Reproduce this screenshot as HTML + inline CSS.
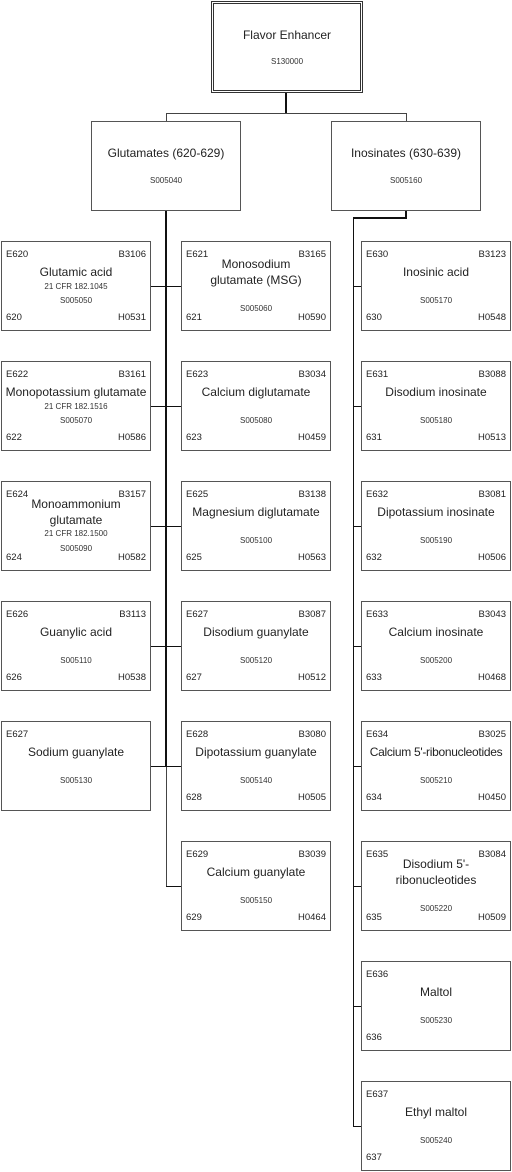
<!DOCTYPE html>
<html><head><meta charset="utf-8"><style>
body{margin:0;width:512px;height:1172px;background:#fff;position:relative;font-family:"Liberation Sans",sans-serif;color:#222;overflow:hidden}
.b{position:absolute;width:148px;height:88px;border:1px solid #555;background:#fff;box-sizing:content-box}
.t{position:absolute;left:0;right:0;text-align:center;font-size:12px;line-height:16px;white-space:nowrap}
.s{position:absolute;left:0;right:0;text-align:center;font-size:8px;line-height:10px;color:#333}
.c{position:absolute;font-size:9.5px;line-height:12px;color:#222}
.l{position:absolute;background:#111}
</style></head><body>
<!-- connectors -->
<div class="l" style="left:285px;top:91px;width:2px;height:23px"></div>
<div class="l" style="left:166px;top:113px;width:241px;height:1px;background:#444"></div>
<div class="l" style="left:166px;top:113px;width:1px;height:8px;background:#444"></div>
<div class="l" style="left:406px;top:113px;width:1px;height:8px;background:#444"></div>
<div class="l" style="left:165px;top:211px;width:2px;height:555px"></div>
<div class="l" style="left:166px;top:766px;width:1px;height:121px;background:#444"></div>
<div class="l" style="left:405px;top:211px;width:2px;height:8px"></div>
<div class="l" style="left:353px;top:217px;width:54px;height:2px"></div>
<div class="l" style="left:353px;top:217px;width:1px;height:910px"></div>
<div class="l" style="left:151px;top:286px;width:30px;height:1px"></div>
<div class="l" style="left:151px;top:406px;width:30px;height:1px"></div>
<div class="l" style="left:151px;top:526px;width:30px;height:1px"></div>
<div class="l" style="left:151px;top:646px;width:30px;height:1px"></div>
<div class="l" style="left:151px;top:766px;width:30px;height:1px"></div>
<div class="l" style="left:166px;top:886px;width:15px;height:1px"></div>
<div class="l" style="left:353px;top:286px;width:8px;height:1px"></div>
<div class="l" style="left:353px;top:406px;width:8px;height:1px"></div>
<div class="l" style="left:353px;top:526px;width:8px;height:1px"></div>
<div class="l" style="left:353px;top:646px;width:8px;height:1px"></div>
<div class="l" style="left:353px;top:766px;width:8px;height:1px"></div>
<div class="l" style="left:353px;top:886px;width:8px;height:1px"></div>
<div class="l" style="left:353px;top:1006px;width:8px;height:1px"></div>
<div class="l" style="left:353px;top:1126px;width:8px;height:1px"></div>

<!-- top -->
<div class="b" style="left:211px;top:1px;width:146px;height:86px;border:3px double #333"><div class="t" style="top:23px">Flavor Enhancer</div><div class="s" style="top:53px">S130000</div></div>
<div class="b" style="left:91px;top:121px"><div class="t" style="top:23px">Glutamates (620-629)</div><div class="s" style="top:54px">S005040</div></div>
<div class="b" style="left:331px;top:121px"><div class="t" style="top:23px">Inosinates (630-639)</div><div class="s" style="top:54px">S005160</div></div>

<!-- left column -->
<div class="b" style="left:1px;top:241px"><span class="c" style="left:4px;top:7px">E620</span><span class="c" style="right:4px;top:7px">B3106</span><div class="t" style="top:22px">Glutamic acid</div><div class="s" style="top:40px">21 CFR 182.1045</div><div class="s" style="top:54px">S005050</div><span class="c" style="left:4px;top:70px">620</span><span class="c" style="right:4px;top:70px">H0531</span></div>
<div class="b" style="left:1px;top:361px"><span class="c" style="left:4px;top:7px">E622</span><span class="c" style="right:4px;top:7px">B3161</span><div class="t" style="top:22px">Monopotassium glutamate</div><div class="s" style="top:40px">21 CFR 182.1516</div><div class="s" style="top:54px">S005070</div><span class="c" style="left:4px;top:70px">622</span><span class="c" style="right:4px;top:70px">H0586</span></div>
<div class="b" style="left:1px;top:481px"><span class="c" style="left:4px;top:7px">E624</span><span class="c" style="right:4px;top:7px">B3157</span><div class="t" style="top:14px">Monoammonium<br>glutamate</div><div class="s" style="top:47px">21 CFR 182.1500</div><div class="s" style="top:62px">S005090</div><span class="c" style="left:4px;top:70px">624</span><span class="c" style="right:4px;top:70px">H0582</span></div>
<div class="b" style="left:1px;top:601px"><span class="c" style="left:4px;top:7px">E626</span><span class="c" style="right:4px;top:7px">B3113</span><div class="t" style="top:22px">Guanylic acid</div><div class="s" style="top:54px">S005110</div><span class="c" style="left:4px;top:70px">626</span><span class="c" style="right:4px;top:70px">H0538</span></div>
<div class="b" style="left:1px;top:721px"><span class="c" style="left:4px;top:7px">E627</span><div class="t" style="top:22px">Sodium guanylate</div><div class="s" style="top:54px">S005130</div></div>

<!-- middle column -->
<div class="b" style="left:181px;top:241px"><span class="c" style="left:4px;top:7px">E621</span><span class="c" style="right:4px;top:7px">B3165</span><div class="t" style="top:14px">Monosodium<br>glutamate (MSG)</div><div class="s" style="top:62px">S005060</div><span class="c" style="left:4px;top:70px">621</span><span class="c" style="right:4px;top:70px">H0590</span></div>
<div class="b" style="left:181px;top:361px"><span class="c" style="left:4px;top:7px">E623</span><span class="c" style="right:4px;top:7px">B3034</span><div class="t" style="top:22px">Calcium diglutamate</div><div class="s" style="top:54px">S005080</div><span class="c" style="left:4px;top:70px">623</span><span class="c" style="right:4px;top:70px">H0459</span></div>
<div class="b" style="left:181px;top:481px"><span class="c" style="left:4px;top:7px">E625</span><span class="c" style="right:4px;top:7px">B3138</span><div class="t" style="top:22px">Magnesium diglutamate</div><div class="s" style="top:54px">S005100</div><span class="c" style="left:4px;top:70px">625</span><span class="c" style="right:4px;top:70px">H0563</span></div>
<div class="b" style="left:181px;top:601px"><span class="c" style="left:4px;top:7px">E627</span><span class="c" style="right:4px;top:7px">B3087</span><div class="t" style="top:22px">Disodium guanylate</div><div class="s" style="top:54px">S005120</div><span class="c" style="left:4px;top:70px">627</span><span class="c" style="right:4px;top:70px">H0512</span></div>
<div class="b" style="left:181px;top:721px"><span class="c" style="left:4px;top:7px">E628</span><span class="c" style="right:4px;top:7px">B3080</span><div class="t" style="top:22px">Dipotassium guanylate</div><div class="s" style="top:54px">S005140</div><span class="c" style="left:4px;top:70px">628</span><span class="c" style="right:4px;top:70px">H0505</span></div>
<div class="b" style="left:181px;top:841px"><span class="c" style="left:4px;top:7px">E629</span><span class="c" style="right:4px;top:7px">B3039</span><div class="t" style="top:22px">Calcium guanylate</div><div class="s" style="top:54px">S005150</div><span class="c" style="left:4px;top:70px">629</span><span class="c" style="right:4px;top:70px">H0464</span></div>

<!-- right column -->
<div class="b" style="left:361px;top:241px"><span class="c" style="left:4px;top:7px">E630</span><span class="c" style="right:4px;top:7px">B3123</span><div class="t" style="top:22px">Inosinic acid</div><div class="s" style="top:54px">S005170</div><span class="c" style="left:4px;top:70px">630</span><span class="c" style="right:4px;top:70px">H0548</span></div>
<div class="b" style="left:361px;top:361px"><span class="c" style="left:4px;top:7px">E631</span><span class="c" style="right:4px;top:7px">B3088</span><div class="t" style="top:22px">Disodium inosinate</div><div class="s" style="top:54px">S005180</div><span class="c" style="left:4px;top:70px">631</span><span class="c" style="right:4px;top:70px">H0513</span></div>
<div class="b" style="left:361px;top:481px"><span class="c" style="left:4px;top:7px">E632</span><span class="c" style="right:4px;top:7px">B3081</span><div class="t" style="top:22px">Dipotassium inosinate</div><div class="s" style="top:54px">S005190</div><span class="c" style="left:4px;top:70px">632</span><span class="c" style="right:4px;top:70px">H0506</span></div>
<div class="b" style="left:361px;top:601px"><span class="c" style="left:4px;top:7px">E633</span><span class="c" style="right:4px;top:7px">B3043</span><div class="t" style="top:22px">Calcium inosinate</div><div class="s" style="top:54px">S005200</div><span class="c" style="left:4px;top:70px">633</span><span class="c" style="right:4px;top:70px">H0468</span></div>
<div class="b" style="left:361px;top:721px"><span class="c" style="left:4px;top:7px">E634</span><span class="c" style="right:4px;top:7px">B3025</span><div class="t" style="top:22px;letter-spacing:-0.3px">Calcium 5'-ribonucleotides</div><div class="s" style="top:54px">S005210</div><span class="c" style="left:4px;top:70px">634</span><span class="c" style="right:4px;top:70px">H0450</span></div>
<div class="b" style="left:361px;top:841px"><span class="c" style="left:4px;top:7px">E635</span><span class="c" style="right:4px;top:7px">B3084</span><div class="t" style="top:14px">Disodium 5'-<br>ribonucleotides</div><div class="s" style="top:62px">S005220</div><span class="c" style="left:4px;top:70px">635</span><span class="c" style="right:4px;top:70px">H0509</span></div>
<div class="b" style="left:361px;top:961px"><span class="c" style="left:4px;top:7px">E636</span><div class="t" style="top:22px">Maltol</div><div class="s" style="top:54px">S005230</div><span class="c" style="left:4px;top:70px">636</span></div>
<div class="b" style="left:361px;top:1081px"><span class="c" style="left:4px;top:7px">E637</span><div class="t" style="top:22px">Ethyl maltol</div><div class="s" style="top:54px">S005240</div><span class="c" style="left:4px;top:70px">637</span></div>
</body></html>
